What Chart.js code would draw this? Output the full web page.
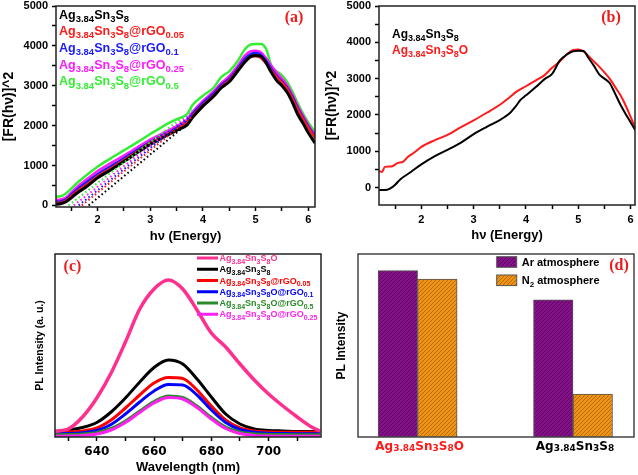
<!DOCTYPE html>
<html><head><meta charset="utf-8">
<script src="https://cdn.jsdelivr.net/npm/chart.js@4/dist/chart.umd.min.js"></script>
<style>
html,body{margin:0;padding:0;background:#fff;}
body{width:638px;height:475px;position:relative;overflow:hidden;}
canvas{position:absolute;}
</style></head><body>
<canvas id="ca" width="319" height="250" style="left:0px;top:0px;width:319px;height:250px"></canvas>
<canvas id="cb" width="319" height="250" style="left:319px;top:0px;width:319px;height:250px"></canvas>
<canvas id="cc" width="330" height="225" style="left:0px;top:250px;width:330px;height:225px"></canvas>
<canvas id="cd" width="308" height="225" style="left:330px;top:250px;width:308px;height:225px"></canvas>
<script>
// ---------------- DATA ----------------
// Panel (a): [F(R)hv]^2 vs hv
const energyA = [1.21,1.3,1.4,1.5,1.6,1.8,2.0,2.25,2.5,2.75,3.0,3.25,3.5,3.7,3.8,4.0,4.2,4.35,4.5,4.65,4.8,4.9,5.0,5.1,5.2,5.3,5.4,5.5,5.6,5.7,5.8,5.9,6.0,6.13];
const aPure   = [30,40,90,190,300,480,690,890,1100,1320,1530,1710,1880,2020,2200,2490,2730,2950,3100,3350,3600,3730,3760,3740,3570,3330,3130,3000,2830,2580,2280,2060,1820,1560];
const aGO005  = [60,70,120,230,340,530,730,930,1140,1350,1560,1740,1910,2060,2240,2520,2760,2980,3140,3380,3620,3720,3740,3700,3560,3380,3220,3080,2920,2680,2400,2170,1950,1680];
const aGO01   = [90,100,150,270,390,590,780,980,1180,1390,1590,1770,1940,2100,2290,2570,2810,3020,3180,3420,3680,3790,3820,3780,3620,3420,3250,3110,2950,2720,2440,2200,1980,1720];
const aGO025  = [140,150,200,320,450,660,860,1060,1250,1450,1650,1820,1990,2150,2340,2620,2860,3070,3240,3480,3760,3860,3880,3840,3690,3500,3330,3180,3010,2770,2490,2250,2020,1760];
const aGO05   = [220,230,300,420,550,770,970,1180,1380,1580,1790,1990,2160,2290,2510,2750,2950,3220,3360,3600,3920,4030,4050,4050,3920,3500,3360,3260,3090,2850,2560,2300,2080,1840];
const labelsA = ['Ag_{3.84}Sn_{3}S_{8}','Ag_{3.84}Sn_{3}S_{8}@rGO_{0.05}','Ag_{3.84}Sn_{3}S_{8}@rGO_{0.1}','Ag_{3.84}Sn_{3}S_{8}@rGO_{0.25}','Ag_{3.84}Sn_{3}S_{8}@rGO_{0.5}'];
const taucInterceptA = [1.83,1.70,1.64,1.55,1.45];
const taucEndXA = [3.8,3.8,3.8,3.8,3.8];
const taucEndYA = [2150,2230,2280,2330,2400];

// Panel (b)
const energyBPure = [1.19,1.3,1.4,1.5,1.6,1.8,2.0,2.25,2.5,2.75,3.0,3.25,3.5,3.6,3.7,3.8,3.9,4.0,4.2,4.35,4.5,4.65,4.8,4.9,5.0,5.1,5.2,5.3,5.4,5.5,5.6,5.7,5.8,5.9,6.0,6.09];
const bPure = [-70,-70,-30,80,230,430,640,860,1040,1230,1470,1670,1860,1950,2060,2230,2420,2540,2780,2980,3130,3500,3680,3750,3770,3760,3560,3350,3120,3000,2880,2600,2300,2040,1800,1580];
const energyBOxy = [1.19,1.25,1.3,1.43,1.55,1.65,1.74,1.85,2.0,2.25,2.4,2.5,2.75,3.0,3.25,3.5,3.7,3.8,4.0,4.2,4.35,4.5,4.65,4.8,4.9,5.0,5.1,5.2,5.3,5.4,5.5,5.6,5.7,5.8,5.9,6.0,6.09];
const bOxy = [460,430,570,580,680,710,840,950,1120,1300,1390,1450,1660,1850,2060,2280,2500,2620,2790,2960,3090,3300,3480,3690,3790,3800,3750,3620,3470,3330,3170,3000,2780,2560,2280,1950,1640];
const labelsB = ['Ag_{3.84}Sn_{3}S_{8}','Ag_{3.84}Sn_{3}S_{8}O'];

// tick values for panels (a) and (b)
const energyTicks = [1.5,2,2.5,3,3.5,4,4.5,5,5.5,6];
const frTicks = [0,500,1000,1500,2000,2500,3000,3500,4000,4500,5000];

// Panel (c): PL spectra
const wavelengthC = [625,630,635,640,645,650,655,660,665,670,675,680,685,690,695,700,705,710,715,718];
const cOxy     = [5.7,8,20,39,64,95,128,148,157,148,127,104,90,73,57,43,31,20,10,5.7];
const cPure    = [5.5,7,9.5,14.5,25,39,55,69.5,77,73,58,40,23,13,8,6.5,6,5.5,5.4,5.3];
const cGO005   = [4.7,5,6,9,17,29,42,54,59.5,58.5,47,31,17,9,6,5,4.8,4.7,4.7,4.7];
const cOGO01   = [3.3,3.5,4.3,6.5,12.5,23,35,46,52.5,52,42,27,14.5,7.5,4.8,3.8,3.5,3.3,3.3,3.3];
const cOGO05   = [2.3,2.5,3.0,4.5,8.5,16,26,35.5,41,39.5,31,19.5,10,5,3.2,2.6,2.4,2.3,2.3,2.3];
const cOGO025  = [0.7,0.9,1.5,3,7,14.5,24.5,34,39.5,38,29.5,18,8.5,3.5,1.6,1,0.8,0.7,0.7,0.7];
const labelsC = ['Ag_{3.84}Sn_{3}S_{8}O','Ag_{3.84}Sn_{3}S_{8}','Ag_{3.84}Sn_{3}S_{8}@rGO_{0.05}','Ag_{3.84}Sn_{3}S_{8}O@rGO_{0.1}','Ag_{3.84}Sn_{3}S_{8}O@rGO_{0.5}','Ag_{3.84}Sn_{3}S_{8}O@rGO_{0.25}'];
const wavelengthTicks = [630,640,650,660,670,680,690,700,710];

// Panel (d): PL intensity bars
const categoriesD = ['Ag_{3.84}Sn_{3}S_{8}O','Ag_{3.84}Sn_{3}S_{8}'];
const categoryPosD = [1,2];
const dAr = [90.9,75.0];
const dN2 = [86.3,23.5];
const labelsD = ['Ar atmosphere','N_{2} atmosphere'];

// ---------------- HELPERS ----------------
const FONT = '"Liberation Sans", Arial, Helvetica, sans-serif';
const WIDE = '"DejaVu Sans", sans-serif';
const SERIF = '"Liberation Serif", "Times New Roman", serif';
Chart.defaults.font.family = FONT;
Chart.defaults.font.weight = 'bold';
Chart.defaults.color = '#000';
Chart.defaults.animation = false;
Chart.defaults.events = [];
Chart.defaults.plugins.legend.display = false;
Chart.defaults.plugins.tooltip.enabled = false;

const pts = (xs, ys) => xs.map((x, i) => ({x, y: ys[i]}));
const useTicks = arr => axis => { axis.ticks = arr.map(v => ({value: v})); };

function richParts(s){
  const out=[]; const re=/_\{([^}]*)\}/g; let last=0, m;
  while((m=re.exec(s))){ if(m.index>last) out.push([s.slice(last,m.index),false]); out.push([m[1],true]); last=re.lastIndex; }
  if(last<s.length) out.push([s.slice(last),false]);
  return out;
}
function drawRich(ctx, s, x, y, o){
  const parts = richParts(s);
  const fam = o.family || FONT;
  let w = 0;
  parts.forEach(([t,sb])=>{ ctx.font = `bold ${sb?o.sub:o.main}px ${fam}`; w += ctx.measureText(t).width; });
  let cx = o.align==='center' ? x - w/2 : x;
  const base = y + o.main*0.36;
  ctx.save();
  ctx.fillStyle = o.color; ctx.textAlign='left'; ctx.textBaseline='alphabetic';
  parts.forEach(([t,sb])=>{ ctx.font = `bold ${sb?o.sub:o.main}px ${fam}`; ctx.fillText(t, cx, sb ? base + o.drop : base); cx += ctx.measureText(t).width; });
  ctx.restore();
}
function frame(chart, color, w){
  const {left,top,right,bottom} = chart.chartArea; const ctx = chart.ctx;
  ctx.save(); ctx.strokeStyle=color; ctx.lineWidth=w; ctx.strokeRect(left,top,right-left,bottom-top); ctx.restore();
}
function tag(ctx, text, x, y){
  ctx.save(); ctx.font = `bold 16px ${SERIF}`; ctx.fillStyle='#ee1c1c'; ctx.textAlign='center'; ctx.textBaseline='middle'; ctx.fillText(text,x,y); ctx.restore();
}
const fitW = w => s => { s.width = w; s.paddingTop=0; s.paddingBottom=0; s.paddingLeft=0; s.paddingRight=0; };
const fitH = h => s => { s.height = h; s.paddingTop=0; s.paddingBottom=0; s.paddingLeft=0; s.paddingRight=0; };
const tickGrid = {drawOnChartArea:false, drawTicks:true, tickLength:4, tickColor:'#000', tickWidth:1.5};
function hatch(base, line){
  const c = document.createElement('canvas'); c.width = 4; c.height = 4;
  const g = c.getContext('2d');
  g.fillStyle = base; g.fillRect(0,0,4,4);
  g.strokeStyle = line; g.lineWidth = 1;
  g.beginPath(); g.moveTo(-1,5); g.lineTo(5,-1); g.stroke();
  g.beginPath(); g.moveTo(3,5); g.lineTo(5,3); g.stroke();
  g.beginPath(); g.moveTo(-1,1); g.lineTo(1,-1); g.stroke();
  return g.createPattern(c,'repeat');
}

// ---------------- PANEL (a) ----------------
const colA = ['#000000','#ff1a1a','#1a1aff','#ff1aff','#33ee33'];
const seriesA = [aPure, aGO005, aGO01, aGO025, aGO05];
const dsA = [];
taucInterceptA.forEach((x0,i)=>{
  dsA.push({data:[{x:x0,y:0},{x:taucEndXA[i],y:taucEndYA[i]}], borderColor:colA[i], borderWidth:2, borderDash:[1.6,2.6], pointRadius:0, fill:false, tension:0});
});
seriesA.forEach((s,i)=>{
  dsA.push({data:pts(energyA,s), borderColor:colA[i], borderWidth: i===0?3:2.5, pointRadius:0, fill:false, cubicInterpolationMode:'monotone'});
});
new Chart(document.getElementById('ca'), {
  type:'line',
  data:{datasets:dsA},
  options:{
    responsive:false,
    layout:{padding:{left:0,top:6,right:4,bottom:0}},
    scales:{
      x:{type:'linear', min:1.211, max:6.127, afterFit:fitH(43), afterBuildTicks:useTicks(energyTicks), border:{display:false}, grid:tickGrid,
         ticks:{autoSkip:false, maxRotation:0, padding:2, font:{size:11,weight:'bold'}, callback:v=>Number.isInteger(v)?String(v):''},
         title:{display:true, text:'h\u03bd (Energy)', font:{size:13,weight:'bold'}, padding:{top:0,bottom:6}}},
      y:{type:'linear', min:-40, max:5000, afterFit:fitW(56), afterBuildTicks:useTicks(frTicks), border:{display:false}, grid:tickGrid,
         ticks:{autoSkip:false, padding:4, font:{size:11,weight:'bold'}, callback:v=>v%1000===0?String(v):''},
         title:{display:true, text:'[FR(h\u03bd)]^2', font:{size:14,weight:'bold'}, padding:{top:1,bottom:0}}}
    }
  },
  plugins:[{id:'decoA', afterDraw(chart){
    frame(chart,'#222',1.5);
    const ctx = chart.ctx;
    labelsA.forEach((t,i)=>drawRich(ctx,t,59,14+i*16.7,{main:12.5,sub:9.5,drop:3.2,color:colA[i]}));
    tag(ctx,'(a)',294,18);
  }}]
});

// ---------------- PANEL (b) ----------------
const colB = ['#000000','#ff1a1a'];
new Chart(document.getElementById('cb'), {
  type:'line',
  data:{datasets:[
    {data:pts(energyBPure,bPure), borderColor:colB[0], borderWidth:2, pointRadius:0, fill:false, cubicInterpolationMode:'monotone'},
    {data:pts(energyBOxy,bOxy), borderColor:colB[1], borderWidth:2, pointRadius:0, fill:false, cubicInterpolationMode:'monotone'}
  ]},
  options:{
    responsive:false,
    layout:{padding:{left:0,top:6,right:3,bottom:0}},
    scales:{
      x:{type:'linear', min:1.19, max:6.085, afterFit:fitH(45), afterBuildTicks:useTicks(energyTicks), border:{display:false}, grid:tickGrid,
         ticks:{autoSkip:false, maxRotation:0, padding:4, font:{size:11,weight:'bold'}, callback:v=>Number.isInteger(v)?String(v):''},
         title:{display:true, text:'h\u03bd (Energy)', font:{size:13,weight:'bold'}, padding:{top:0,bottom:7}}},
      y:{type:'linear', min:-480, max:5000, afterFit:fitW(60), afterBuildTicks:useTicks(frTicks), border:{display:false}, grid:tickGrid,
         ticks:{autoSkip:false, padding:4, font:{size:11,weight:'bold'}, callback:v=>v%1000===0?String(v):''},
         title:{display:true, text:'[FR(h\u03bd)]^2', font:{size:14,weight:'bold'}, padding:{top:4.5,bottom:0}}}
    }
  },
  plugins:[{id:'decoB', afterDraw(chart){
    frame(chart,'#222',1.5);
    const ctx = chart.ctx;
    labelsB.forEach((t,i)=>drawRich(ctx,t,73,33.3+i*16.7,{main:12,sub:9,drop:3,color:colB[i]}));
    tag(ctx,'(b)',292,18);
  }}]
});

// ---------------- PANEL (c) ----------------
const colC = ['#ff2f8f','#000000','#ff0000','#0000ff','#2a8a2a','#ff22ee'];
const seriesC = [cOxy, cPure, cGO005, cOGO01, cOGO05, cOGO025];
const drawOrderC = [0,5,4,3,2,1];
new Chart(document.getElementById('cc'), {
  type:'line',
  data:{datasets: drawOrderC.map(i=>({data:pts(wavelengthC,seriesC[i]), borderColor:colC[i], borderWidth: i===0?3.5:3, pointRadius:0, fill:false, cubicInterpolationMode:'monotone'}))},
  options:{
    responsive:false,
    layout:{padding:{left:0,top:4,right:9,bottom:0}},
    scales:{
      x:{type:'linear', min:625.4, max:718.3, afterFit:fitH(38), afterBuildTicks:useTicks(wavelengthTicks), border:{display:false}, grid:tickGrid,
         ticks:{autoSkip:false, maxRotation:0, padding:3.5, font:{family:WIDE, size:12, weight:'bold'}, callback:v=>v%20===0?String(v):''},
         title:{display:true, text:'Wavelength (nm)', font:{size:13,weight:'bold'}, padding:{top:0,bottom:0}}},
      y:{type:'linear', min:0, max:183, afterFit:fitW(55), border:{display:false}, grid:{display:false},
         ticks:{display:false},
         title:{display:true, text:'PL Intensity (a. u.)', font:{size:10.5,weight:'bold'}, padding:{top:34,bottom:0}}}
    }
  },
  plugins:[{id:'decoC', afterDraw(chart){
    frame(chart,'#222',1.5);
    const ctx = chart.ctx;
    labelsC.forEach((t,i)=>{
      const y = 8 + i*11.25;
      ctx.save(); ctx.strokeStyle = colC[i]; ctx.lineWidth = 3; ctx.beginPath(); ctx.moveTo(197,y); ctx.lineTo(218,y); ctx.stroke(); ctx.restore();
      drawRich(ctx,t,219.5,y,{main:9,sub:7,drop:2.5,color:colC[i]});
    });
    tag(ctx,'(c)',72.5,16.7);
  }}]
});

// ---------------- PANEL (d) ----------------
const patAr = hatch('#86108a','#5a0a5c');
const patN2 = hatch('#ee9414','#b86a08');
const colCatD = ['#ff1a1a','#000000'];
new Chart(document.getElementById('cd'), {
  type:'bar',
  data:{datasets:[
    {label:labelsD[0], data:pts(categoryPosD,dAr), backgroundColor:patAr, borderColor:'#555', borderWidth:1, barThickness:39.5},
    {label:labelsD[1], data:pts(categoryPosD,dN2), backgroundColor:patN2, borderColor:'#555', borderWidth:1, barThickness:39.5}
  ]},
  options:{
    responsive:false,
    layout:{padding:{left:0,top:4,right:4,bottom:0}},
    scales:{
      x:{type:'linear', offset:false, min:0.6165, max:2.3925, afterFit:fitH(38), afterBuildTicks:useTicks(categoryPosD), border:{display:false}, grid:{display:false, offset:false},
         ticks:{display:false}},
      y:{type:'linear', min:0, max:100, afterFit:fitW(28), border:{display:false}, grid:{display:false},
         ticks:{display:false},
         title:{display:true, text:'PL Intensity', font:{size:12,weight:'bold'}, padding:{top:4.5,bottom:0}}}
    }
  },
  plugins:[{id:'decoD', afterDraw(chart){
    frame(chart,'#444',1.5);
    const ctx = chart.ctx;
    const xs = chart.scales.x;
    categoriesD.forEach((t,i)=>drawRich(ctx,t,xs.getPixelForValue(categoryPosD[i])+2,195.7,{main:12,sub:9,drop:1,color:colCatD[i],align:'center',family:WIDE}));
    [patAr,patN2].forEach((p,i)=>{
      const y = i===0 ? 6.7 : 25;
      ctx.save(); ctx.fillStyle=p; ctx.fillRect(166.7,y,20,10.6); ctx.strokeStyle='#555'; ctx.lineWidth=1; ctx.strokeRect(166.7,y,20,10.6); ctx.restore();
      drawRich(ctx,labelsD[i],191.7,y+5.3,{main:11,sub:8,drop:3,color:'#000'});
    });
    tag(ctx,'(d)',289,15.8);
  }}]
});
</script>
</body></html>
